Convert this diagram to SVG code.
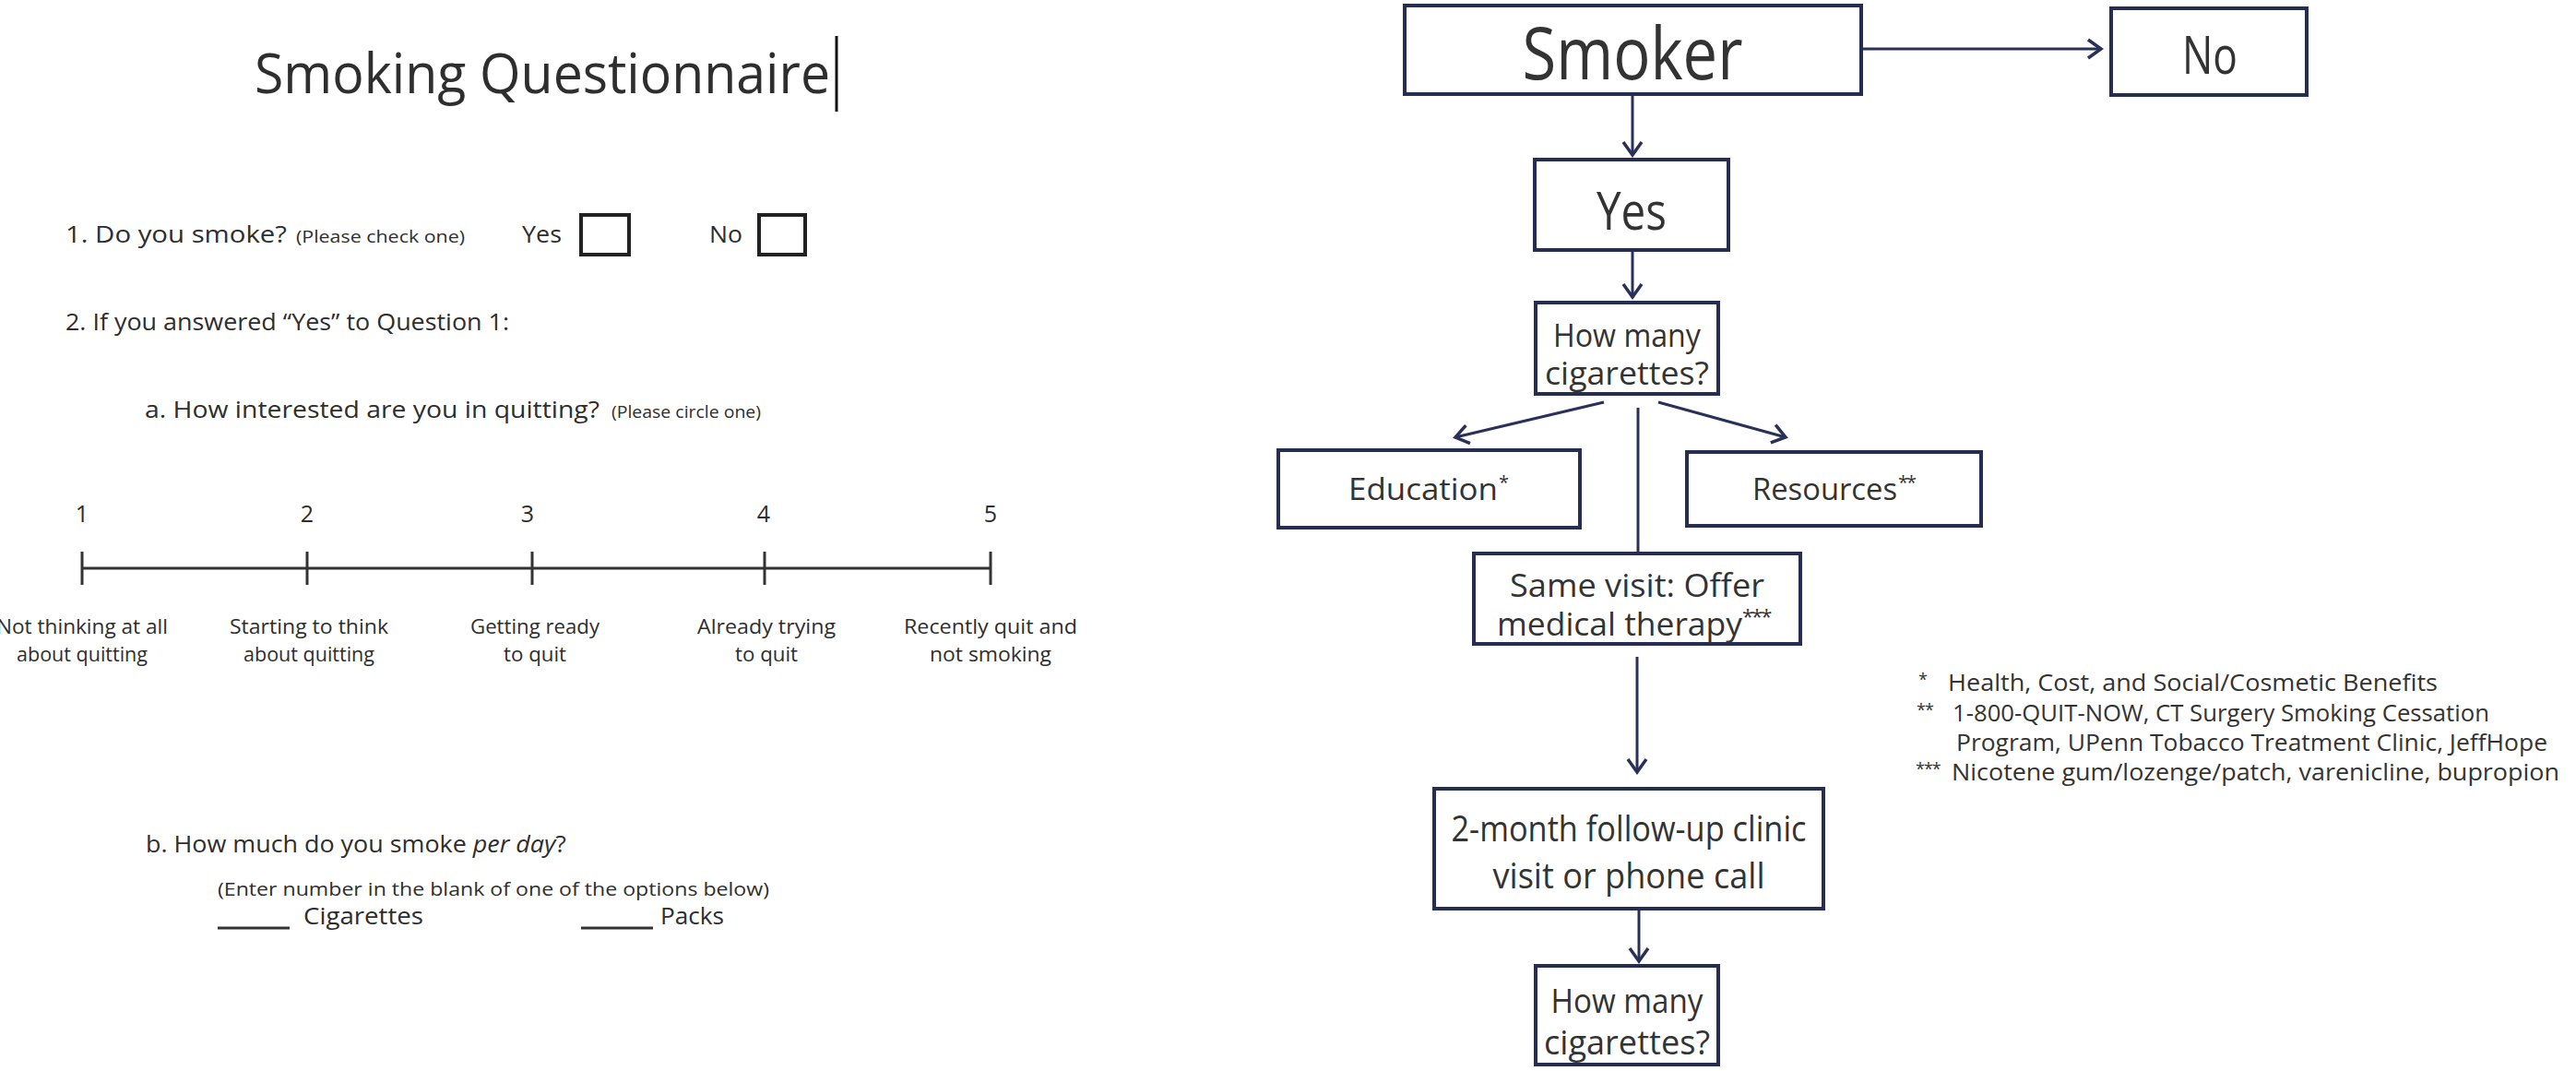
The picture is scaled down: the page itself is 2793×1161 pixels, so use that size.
<svg xmlns="http://www.w3.org/2000/svg" width="2793" height="1161" viewBox="0 0 2793 1161">
<style>
.q{font-family:"Open Sans","Liberation Sans",sans-serif;fill:#2e2e2e}
.f{font-family:"Open Sans","Liberation Sans",sans-serif;fill:#333}
.box{fill:#fff;stroke:#262d52;stroke-width:4}
.cb{fill:none;stroke:#222;stroke-width:4}
.edge{stroke:#2a3158;stroke-width:3;fill:none}
.ln{stroke:#333;stroke-width:3}
.sup{font-size:0.6em}
</style>
<defs>
<marker id="ah" markerUnits="userSpaceOnUse" markerWidth="30" markerHeight="30" viewBox="0 0 30 30" refX="27" refY="15" orient="auto">
<path d="M13,5 L27,15 L13,25" fill="none" stroke="#2a3158" stroke-width="3.5"/>
</marker>
</defs>
<rect width="2793" height="1161" fill="#fff"/>

<g id="questionnaire">
<text class="q" x="276" y="101" font-size="60" textLength="624" lengthAdjust="spacingAndGlyphs">Smoking Questionnaire</text>
<line x1="907" y1="39" x2="907" y2="121" stroke="#111" stroke-width="3"/>

<text class="q" x="71" y="263" font-size="26" textLength="240" lengthAdjust="spacingAndGlyphs">1. Do you smoke?</text>
<text class="q" x="321" y="263" font-size="19" textLength="183" lengthAdjust="spacingAndGlyphs">(Please check one)</text>
<text class="q" x="566" y="263" font-size="26" textLength="43" lengthAdjust="spacingAndGlyphs">Yes</text>
<rect class="cb" x="630" y="233" width="52" height="43"/>
<text class="q" x="769" y="263" font-size="26" textLength="36" lengthAdjust="spacingAndGlyphs">No</text>
<rect class="cb" x="823" y="233" width="50" height="43"/>

<text class="q" x="71" y="358" font-size="26" textLength="481" lengthAdjust="spacingAndGlyphs">2. If you answered “Yes” to Question 1:</text>
<text class="q" x="157" y="453" font-size="26" textLength="493" lengthAdjust="spacingAndGlyphs">a. How interested are you in quitting?</text>
<text class="q" x="663" y="453" font-size="19" textLength="162" lengthAdjust="spacingAndGlyphs">(Please circle one)</text>

<g text-anchor="middle">
<text class="q" x="89" y="566" font-size="25">1</text>
<text class="q" x="333" y="566" font-size="25">2</text>
<text class="q" x="572" y="566" font-size="25">3</text>
<text class="q" x="828" y="566" font-size="25">4</text>
<text class="q" x="1074" y="566" font-size="25">5</text>
</g>
<line class="ln" x1="89" y1="616" x2="1074" y2="616"/>
<line class="ln" x1="89" y1="598" x2="89" y2="634"/>
<line class="ln" x1="333" y1="598" x2="333" y2="634"/>
<line class="ln" x1="577" y1="598" x2="577" y2="634"/>
<line class="ln" x1="829" y1="598" x2="829" y2="634"/>
<line class="ln" x1="1074" y1="598" x2="1074" y2="634"/>

<g text-anchor="middle" font-size="21">
<text class="q" x="89" y="687" textLength="186" lengthAdjust="spacingAndGlyphs">Not thinking at all</text>
<text class="q" x="89" y="717" textLength="142" lengthAdjust="spacingAndGlyphs">about quitting</text>
<text class="q" x="335" y="687" textLength="172" lengthAdjust="spacingAndGlyphs">Starting to think</text>
<text class="q" x="335" y="717" textLength="142" lengthAdjust="spacingAndGlyphs">about quitting</text>
<text class="q" x="580" y="687" textLength="140" lengthAdjust="spacingAndGlyphs">Getting ready</text>
<text class="q" x="580" y="717" textLength="68" lengthAdjust="spacingAndGlyphs">to quit</text>
<text class="q" x="831" y="687" textLength="150" lengthAdjust="spacingAndGlyphs">Already trying</text>
<text class="q" x="831" y="717" textLength="68" lengthAdjust="spacingAndGlyphs">to quit</text>
<text class="q" x="1074" y="687" textLength="188" lengthAdjust="spacingAndGlyphs">Recently quit and</text>
<text class="q" x="1074" y="717" textLength="132" lengthAdjust="spacingAndGlyphs">not smoking</text>
</g>

<text class="q" x="158" y="924" font-size="26" textLength="456" lengthAdjust="spacingAndGlyphs">b. How much do you smoke <tspan font-style="italic">per day</tspan>?</text>
<text class="q" x="236" y="971" font-size="20" textLength="598" lengthAdjust="spacingAndGlyphs">(Enter number in the blank of one of the options below)</text>
<line class="ln" x1="236" y1="1006" x2="314" y2="1006"/>
<text class="q" x="329" y="1002" font-size="26" textLength="130" lengthAdjust="spacingAndGlyphs">Cigarettes</text>
<line class="ln" x1="630" y1="1006" x2="708" y2="1006"/>
<text class="q" x="716" y="1002" font-size="26" textLength="69" lengthAdjust="spacingAndGlyphs">Packs</text>
</g>

<g id="connectors">
<line class="edge" x1="2018" y1="53" x2="2278" y2="53" marker-end="url(#ah)"/>
<line class="edge" x1="1770" y1="102" x2="1770" y2="168" marker-end="url(#ah)"/>
<line class="edge" x1="1770" y1="271" x2="1770" y2="322" marker-end="url(#ah)"/>
<line class="edge" x1="1739" y1="436" x2="1578" y2="474" marker-end="url(#ah)"/>
<line class="edge" x1="1798" y1="436" x2="1936" y2="474" marker-end="url(#ah)"/>
<line class="edge" x1="1776" y1="442" x2="1776" y2="632" marker-end="url(#ah)"/>
<line class="edge" x1="1775" y1="712" x2="1775" y2="837" marker-end="url(#ah)"/>
<line class="edge" x1="1777" y1="985" x2="1777" y2="1042" marker-end="url(#ah)"/>
</g>

<g id="smoker">
<rect class="box" x="1523" y="6" width="495" height="96"/>
<text class="f" x="1770" y="86" font-size="78" text-anchor="middle" textLength="239" lengthAdjust="spacingAndGlyphs">Smoker</text>
</g>
<g id="no">
<rect class="box" x="2289" y="9" width="212" height="94"/>
<text class="f" x="2396" y="80" font-size="56" text-anchor="middle" textLength="60" lengthAdjust="spacingAndGlyphs">No</text>
</g>
<g id="yes">
<rect class="box" x="1664" y="173" width="210" height="98"/>
<text class="f" x="1769" y="249" font-size="56" text-anchor="middle" textLength="76" lengthAdjust="spacingAndGlyphs">Yes</text>
</g>
<g id="howmany1">
<rect class="box" x="1665" y="328" width="198" height="99"/>
<text class="f" x="1764" y="376" font-size="34" text-anchor="middle" textLength="160" lengthAdjust="spacingAndGlyphs">How many</text>
<text class="f" x="1764" y="417" font-size="34" text-anchor="middle" textLength="178" lengthAdjust="spacingAndGlyphs">cigarettes?</text>
</g>
<g id="education">
<rect class="box" x="1386" y="488" width="327" height="84"/>
<text class="f" x="1462" y="542" font-size="33" textLength="162" lengthAdjust="spacingAndGlyphs">Education</text>
<text class="f" x="1625" y="530" font-size="20">*</text>
</g>
<g id="resources">
<rect class="box" x="1829" y="490" width="319" height="80"/>
<text class="f" x="1900" y="542" font-size="33" textLength="157" lengthAdjust="spacingAndGlyphs">Resources</text>
<text class="f" x="2058" y="530" font-size="20" letter-spacing="-2">**</text>
</g>
<g id="samevisit">
<rect class="box" x="1598" y="600" width="354" height="98"/>
<text class="f" x="1775" y="647" font-size="35" text-anchor="middle" textLength="276" lengthAdjust="spacingAndGlyphs">Same visit: Offer</text>
<text class="f" x="1623" y="689" font-size="35" textLength="266" lengthAdjust="spacingAndGlyphs">medical therapy</text>
<text class="f" x="1889" y="676" font-size="22" letter-spacing="-2">***</text>
</g>
<g id="followup">
<rect class="box" x="1555" y="855" width="422" height="130"/>
<text class="f" x="1766" y="912" font-size="38" text-anchor="middle" textLength="385" lengthAdjust="spacingAndGlyphs">2-month follow-up clinic</text>
<text class="f" x="1766" y="963" font-size="38" text-anchor="middle" textLength="295" lengthAdjust="spacingAndGlyphs">visit or phone call</text>
</g>
<g id="howmany2">
<rect class="box" x="1665" y="1047" width="198" height="107"/>
<text class="f" x="1764" y="1098" font-size="36" text-anchor="middle" textLength="165" lengthAdjust="spacingAndGlyphs">How many</text>
<text class="f" x="1764" y="1143" font-size="36" text-anchor="middle" textLength="180" lengthAdjust="spacingAndGlyphs">cigarettes?</text>
</g>

<g id="footnotes" font-size="25">
<text class="f" x="2080" y="743" font-size="18">*</text>
<text class="f" x="2112" y="749" textLength="531" lengthAdjust="spacingAndGlyphs">Health, Cost, and Social/Cosmetic Benefits</text>
<text class="f" x="2078" y="776" font-size="18" letter-spacing="-1">**</text>
<text class="f" x="2117" y="782" textLength="582" lengthAdjust="spacingAndGlyphs">1-800-QUIT-NOW, CT Surgery Smoking Cessation</text>
<text class="f" x="2121" y="814" textLength="641" lengthAdjust="spacingAndGlyphs">Program, UPenn Tobacco Treatment Clinic, JeffHope</text>
<text class="f" x="2077" y="840" font-size="18" letter-spacing="-1">***</text>
<text class="f" x="2116" y="846" textLength="659" lengthAdjust="spacingAndGlyphs">Nicotene gum/lozenge/patch, varenicline, bupropion</text>
</g>
</svg>
